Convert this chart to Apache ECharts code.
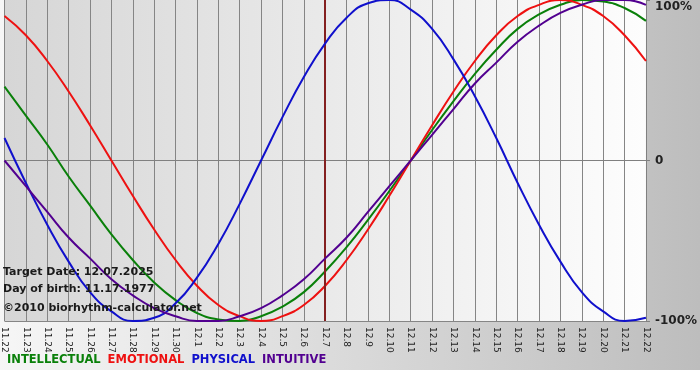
<!DOCTYPE html>
<html>
<head>
<meta charset="utf-8">
<script src="https://cdn.jsdelivr.net/npm/echarts@6/dist/echarts.min.js"></script>
<style>html,body{margin:0;padding:0;background:#fff}#c{width:700px;height:380px}</style>
</head>
<body>
<div id="c"></div>
<script>
const categories = ['11.22','11.23','11.24','11.25','11.26','11.27','11.28','11.29','11.30',
  '12.1','12.2','12.3','12.4','12.5','12.6','12.7','12.8','12.9','12.10','12.11','12.12',
  '12.13','12.14','12.15','12.16','12.17','12.18','12.19','12.20','12.21','12.22'];
const intellectual = [46,28,10,-10,-28,-46,-62,-76,-87,-95,-99,-100,-97,-91,-82,-69,-54,-37,-19,0,19,37,54,69,82,91,97,100,99,95,87];
const emotional = [90,78,62,43,22,0,-22,-43,-62,-78,-90,-97,-100,-97,-90,-78,-62,-43,-22,0,22,43,62,78,90,97,100,97,90,78,62];
const physical = [14,-14,-40,-63,-82,-94,-100,-98,-89,-73,-52,-27,0,27,52,73,89,98,100,94,82,63,40,14,-14,-40,-63,-82,-94,-100,-98];
const intuitive = [0,-16,-32,-48,-61,-74,-84,-92,-97,-100,-100,-97,-92,-84,-74,-61,-48,-32,-16,0,16,32,48,61,74,84,92,97,100,100,97];
const yTickValues = [-100, 0, 100];
const yTickLabels = ['-100%', '0', '100%'];
const targetDay = '12.7';
const infoLines = ['Target Date: 12.07.2025', 'Day of birth: 11.17.1977', '\u00a92010 biorhythm-calculator.net'];
const seriesNames = ['INTELLECTUAL', 'EMOTIONAL', 'PHYSICAL', 'INTUITIVE'];

const colors = ['#0a800a', '#ee1111', '#1010cc', '#520090'];
const seriesData = [intellectual, emotional, physical, intuitive];
const FONT = '"DejaVu Sans", Verdana, sans-serif';

const chart = echarts.init(document.getElementById('c'), null, {renderer: 'canvas'});
const series = seriesNames.map((n, i) => ({
  name: n, type: 'line', data: seriesData[i], smooth: true, symbol: 'none',
  lineStyle: {color: colors[i], width: 2}, itemStyle: {color: colors[i]},
  z: 3 + i
}));
series[0].markLine = {
  silent: true, symbol: 'none', animation: false,
  label: {show: false},
  lineStyle: {color: '#842020', width: 2, type: 'solid'},
  data: [{xAxis: targetDay}]
};

chart.setOption({
  animation: false,
  graphic: [
    {type: 'rect', z: -100, shape: {x: 0, y: 0, width: 700, height: 370},
     style: {fill: {type: 'linear', x: 0, y: 0, x2: 1, y2: 0,
       colorStops: [{offset: 0, color: '#f6f6f6'}, {offset: 1, color: '#bdbdbd'}]}}},
    ...infoLines.map((t, i) => ({
      type: 'text', z: 100, left: 3, top: [267, 284, 303][i],
      style: {text: t, font: 'bold 11px ' + FONT, fill: '#1a1a1a'}
    }))
  ],
  grid: {left: 0, right: 50, top: 0, bottom: 59, show: true, borderWidth: 0,
    backgroundColor: {type: 'linear', x: 0, y: 0, x2: 1, y2: 0,
      colorStops: [{offset: 0, color: '#d6d6d6'}, {offset: 1, color: '#fdfdfd'}]}},
  legend: {
    left: 2, top: 354, padding: 0, icon: 'none', itemWidth: 0, itemHeight: 10, itemGap: 2,
    selectedMode: false,
    textStyle: {fontFamily: FONT, fontSize: 11.5, fontWeight: 'bold'},
    data: seriesNames.map((n, i) => ({name: n, textStyle: {color: colors[i]}}))
  },
  xAxis: {
    type: 'category', data: categories, boundaryGap: false,
    axisLine: {lineStyle: {color: '#808080'}},
    axisTick: {show: true, length: 5, lineStyle: {color: '#808080'}},
    splitLine: {show: true, lineStyle: {color: '#858585', width: 1}},
    axisLabel: {rotate: -90, interval: 0, fontSize: 9, fontFamily: FONT, color: '#222', margin: 6}
  },
  yAxis: {
    type: 'value', position: 'right', min: yTickValues[0], max: yTickValues[2], interval: 100,
    axisLine: {show: true, lineStyle: {color: '#808080'}},
    axisTick: {show: true, length: 4, lineStyle: {color: '#808080'}},
    splitLine: {show: true, lineStyle: {color: ['#858585', '#858585', 'rgba(0,0,0,0)']}},
    axisLabel: {
      margin: 9,
      formatter: v => {
        const lbl = yTickLabels[yTickValues.indexOf(v)];
        return v === yTickValues[2] ? '{t|' + lbl + '}' : '{n|' + lbl + '}';
      },
      rich: {
        t: {fontFamily: FONT, fontSize: 12, fontWeight: 'bold', color: '#222', padding: [14, 0, 0, 0]},
        n: {fontFamily: FONT, fontSize: 12, fontWeight: 'bold', color: '#222'}
      }
    }
  },
  series: series
});
</script>
</body>
</html>
